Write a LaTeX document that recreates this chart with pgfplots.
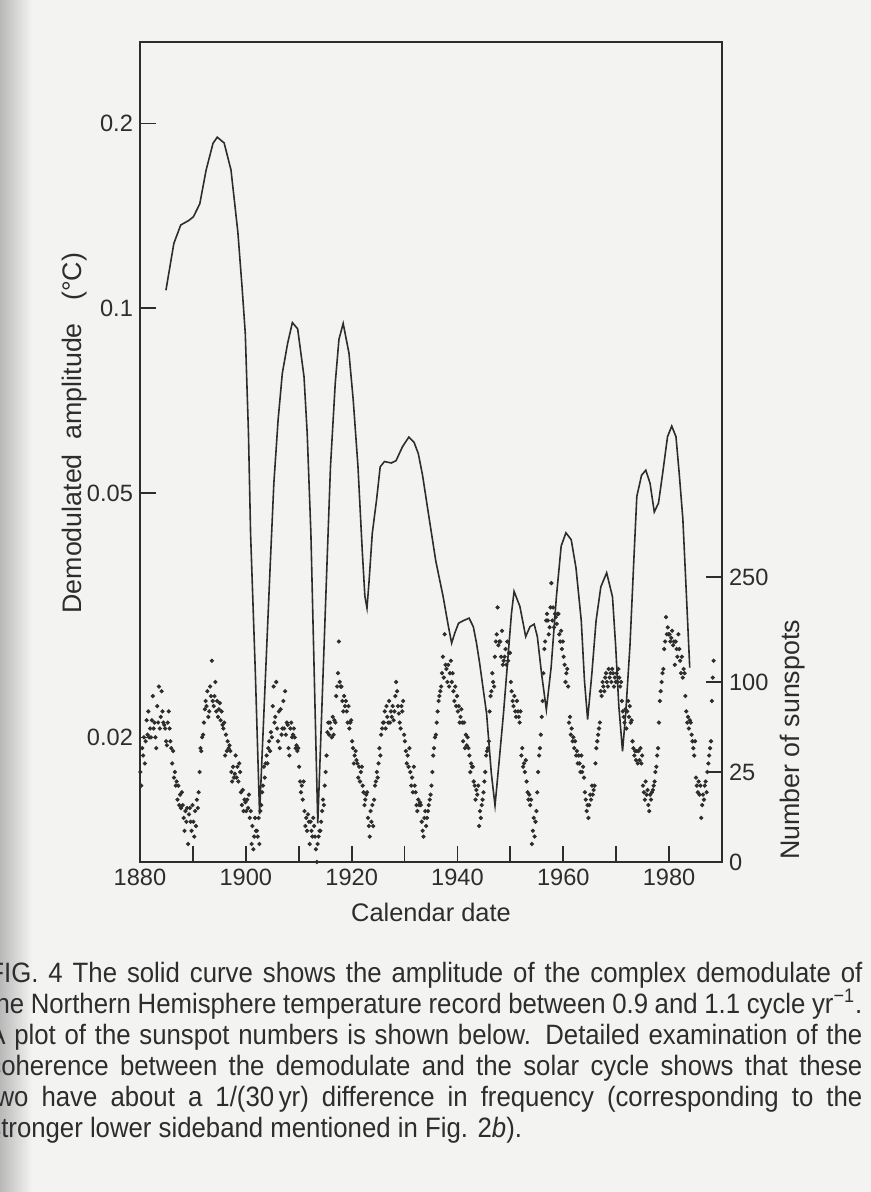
\documentclass[border=0pt]{standalone}
\usepackage{fontspec}
\setmainfont{Liberation Sans}
\newfontfamily\capfont[FakeStretch=0.92]{Liberation Sans}
\usepackage{pgfplots}
\usepackage{pgfplotstable}
\pgfplotsset{compat=1.18}

\definecolor{ink}{RGB}{45,45,45}
\definecolor{paper}{RGB}{243,243,241}

% sunspot numbers, six values per year (two-monthly)
\pgfplotstableread{
yr m1 m2 m3 m4 m5 m6
1880 25 18 40 35 48 30
1881 45 62 50 70 48 55
1882 48 62 85 55 60 48
1883 40 75 60 95 55 65
1884 90 70 60 58 55 45
1885 42 60 70 55 45 40
1886 30 38 22 25 18 20
1887 12 18 10 14 9 15
1888 10 6 3 8 5 9
1889 1 7 9 5 3 10
1890 5 2 8 4 12 9
1891 15 25 40 38 48 50
1892 60 72 80 75 90 65
1893 70 95 85 125 80 75
1894 85 100 70 80 65 72
1895 78 62 70 58 55 60
1896 35 50 38 45 40 42
1897 38 25 20 28 22 24
1898 35 22 28 20 30 25
1899 15 10 16 8 12 11
1900 8 12 9 14 6 8
1901 1 4 0.5 2 6 3
1902 3 2 6 1 8 10
1903 15 18 28 22 30 35
1904 30 40 45 38 52 48
1905 75 95 60 65 100 55
1906 45 70 40 72 50 55
1907 80 55 90 50 60 58
1908 40 35 55 60 48 50
1909 55 48 40 42 38 40
1910 28 20 15 18 12 20
1911 8 4 6 3 7 5
1912 1 5 3 2 6 4
1913 2 0.5 0 1 2 3
1914 3 5 8 12 10 18
1915 25 35 52 60 50 60
1916 55 48 65 50 62 60
1917 85 95 110 150 100 95
1918 95 80 70 85 75 80
1919 70 60 75 55 60 62
1920 45 40 30 35 38 32
1921 30 22 28 20 25 28
1922 18 15 10 12 14 15
1923 6 4 2 8 5 10
1924 4 12 18 20 25 22
1925 30 40 35 50 55 60
1926 60 70 55 75 65 60
1927 80 60 70 65 75 62
1928 70 85 100 90 75 68
1929 60 55 75 70 80 50
1930 45 38 30 35 28 40
1931 25 18 22 15 28 18
1932 15 10 8 12 10 11
1933 10 5 3 2 6 8
1934 4 6 8 10 12 14
1935 18 25 35 40 48 50
1936 60 70 80 85 90 95
1937 110 130 105 160 120 115
1938 100 120 95 110 125 100
1939 110 90 80 95 75 85
1940 70 75 60 65 72 60
1941 45 60 40 50 42 48
1942 40 35 25 30 28 28
1943 20 18 12 16 14 18
1944 4 8 6 10 12 15
1945 20 25 35 38 40 45
1946 70 85 90 110 100 95
1947 130 150 160 200 145 150
1948 150 130 165 120 125 130
1949 140 120 150 125 135 135
1950 100 90 80 75 85 70
1951 65 80 70 65 60 70
1952 35 40 28 30 25 32
1953 20 15 12 14 10 12
1954 1 3 6 2 5 8
1955 15 25 35 40 50 65
1956 80 110 140 150 180 190
1957 180 160 170 200 240 180
1958 200 170 190 185 175 190
1959 190 160 150 165 140 150
1960 130 120 100 110 115 95
1961 60 65 50 55 45 48
1962 40 45 35 38 30 35
1963 30 25 35 25 28 22
1964 15 12 8 10 6 10
1965 14 12 18 14 16 18
1966 30 40 45 50 55 60
1967 90 85 100 95 90 105
1968 110 100 95 115 105 110
1969 100 115 110 95 105 100
1970 110 100 115 105 95 100
1971 80 70 65 60 72 55
1972 70 80 65 75 60 62
1973 45 40 35 38 32 38
1974 30 38 32 40 30 35
1975 18 15 12 20 14 16
1976 10 8 14 12 15 16
1977 18 20 25 28 35 40
1978 60 80 90 100 110 115
1979 140 150 185 160 170 160
1980 160 150 155 165 145 150
1981 120 150 140 130 160 140
1982 125 110 130 105 115 110
1983 85 70 60 65 55 62
1984 60 50 45 40 35 45
1985 22 18 15 20 14 18
1986 6 10 14 12 18 20
1987 15 25 30 35 40 45
}\spots

\newcommand{\ticksize}{\fontsize{11.8}{13}\selectfont}
\newcommand{\labsize}{\fontsize{13.4}{15}\selectfont}

\begin{document}
\begin{tikzpicture}
% page
\fill[paper] (0,0) rectangle (435.5pt,-596pt);
\shade[left color=gray!55, right color=paper] (0,0) rectangle (16pt,-596pt);

% demodulated amplitude, log scale
\begin{axis}[
  at={(70pt,-431pt)}, anchor=south west,
  scale only axis, width=291pt, height=410pt,
  xmin=1880, xmax=1990,
  ymode=log, ymin=0.01254, ymax=0.2715,
  axis line style={line width=0.9pt, draw=ink},
  tick style={line width=0.9pt, draw=ink},
  tick align=inside, major tick length=8pt,
  xtick pos=bottom, ytick pos=left,
  xtick={1880,1890,...,1980},
  xticklabels={1880,,1900,,1920,,1940,,1960,,1980},
  ytick={0.02,0.05,0.1,0.2},
  yticklabels={0.02,0.05,0.1,0.2},
  minor ytick={},
  /pgf/number format/assume math mode=true,
  every tick label/.append style={font=\ticksize, text=ink},
  xlabel={Calendar date},
  ylabel={Demodulated\ \ amplitude\ \ \ (°C)},
  every axis x label/.style={at={(axis description cs:0.5,-0.061)}, anchor=center, font=\fontsize{12.7}{14}\selectfont, text=ink},
  every axis y label/.style={at={(axis description cs:-0.113,0.523)}, anchor=center, rotate=90, font=\labsize, text=ink},
]
\addplot[ink, line width=0.8pt] coordinates {
(1884.9,0.107) (1886.4,0.1276) (1887.7,0.1367) (1889.2,0.139) (1890.1,0.141)
(1891.3,0.148) (1892.5,0.168) (1893.8,0.1857) (1894.6,0.190) (1895.9,0.186)
(1897.2,0.168) (1898.5,0.133) (1899.3,0.108) (1899.9,0.091) (1900.5,0.0626)
(1900.9,0.043) (1901.8,0.0255) (1902.6,0.0150) (1904.6,0.038) (1905.3,0.0519)
(1906.1,0.0658) (1906.9,0.0784) (1907.9,0.0877) (1908.8,0.0948) (1909.8,0.0926)
(1911.0,0.0774) (1911.6,0.0626) (1912.3,0.043) (1913.6,0.0145) (1915.3,0.0375)
(1916.0,0.0552) (1916.9,0.0755) (1917.6,0.089) (1918.4,0.0945) (1919.5,0.0845)
(1920.3,0.0709) (1921.2,0.0552) (1922.0,0.0404) (1922.5,0.034) (1922.9,0.0325)
(1923.3,0.036) (1923.9,0.043) (1924.7,0.0487) (1925.4,0.0552) (1926.2,0.0563)
(1927.5,0.056) (1928.4,0.0565) (1929.6,0.0595) (1930.8,0.0617) (1931.8,0.0605)
(1932.6,0.058) (1933.4,0.0535) (1934.6,0.0458) (1935.9,0.0388) (1937.3,0.0339)
(1938.3,0.0303) (1938.9,0.0285) (1939.5,0.0296) (1940.2,0.0307) (1941.1,0.031)
(1942.2,0.0313) (1943.0,0.0303) (1943.6,0.0285) (1944.2,0.0264) (1945.5,0.0219)
(1946.4,0.0175) (1947.1,0.0155) (1947.8,0.018) (1948.7,0.0219) (1949.5,0.0267)
(1950.2,0.0318) (1950.7,0.0346) (1951.8,0.0327) (1952.9,0.0292) (1953.7,0.0303)
(1954.5,0.0306) (1955.1,0.0292) (1955.9,0.0254) (1956.8,0.0222) (1957.7,0.026)
(1958.7,0.0339) (1959.6,0.041) (1960.5,0.0431) (1961.5,0.042) (1962.4,0.0378)
(1963.4,0.031) (1964.0,0.0248) (1964.6,0.0214) (1965.4,0.0254) (1966.2,0.031)
(1967.1,0.0352) (1968.2,0.0371) (1969.3,0.0339) (1969.9,0.0282) (1970.5,0.0225)
(1971.2,0.019) (1971.8,0.0219) (1972.6,0.0282) (1973.4,0.0400) (1973.9,0.0494)
(1974.8,0.0535) (1975.6,0.0545) (1976.4,0.0519) (1977.2,0.0466) (1978.0,0.0482)
(1978.8,0.054) (1979.7,0.0618) (1980.5,0.0643) (1981.3,0.0618) (1981.9,0.054)
(1982.6,0.0454) (1983.2,0.0352) (1983.9,0.026)
};
\end{axis}

% sunspot numbers, square-root scale on the right
\begin{axis}[
  at={(70pt,-431pt)}, anchor=south west,
  scale only axis, width=291pt, height=410pt,
  xmin=1880, xmax=1990,
  axis x line=none, axis y line*=right,
  ymin=0, ymax=2075,
  y coord trafo/.code={\pgfmathparse{sqrt(#1)}},
  y coord inv trafo/.code={\pgfmathparse{(#1)^2}},
  axis line style={line width=0.9pt, draw=ink},
  tick style={line width=0.9pt, draw=ink},
  tick align=inside, major tick length=8pt,
  ytick={0,25,100,250}, yticklabels={0,25,100,250},
  /pgf/number format/assume math mode=true,
  every tick label/.append style={font=\ticksize, text=ink},
  ylabel={Number of sunspots},
  every axis y label/.style={at={(axis description cs:1.122,0.149)}, anchor=center, rotate=90, font=\labsize, text=ink},
]
\foreach \c/\dx in {m1/0.08,m2/0.25,m3/0.42,m4/0.58,m5/0.75,m6/0.92}{
  \addplot[only marks, mark=*, mark size=0.85pt, ink]
    table[x expr=\thisrow{yr}+\dx, y=\c] {\spots};
}
\addplot[only marks, mark=*, mark size=0.85pt, ink]
  coordinates {(1988.08,80) (1988.25,105) (1988.42,125)};
\end{axis}

% caption (its left edge is cut by the page as in the scan)
\node[anchor=base west, inner sep=0pt, text=ink] at (-6pt,-491pt) {%
  \capfont\fontsize{14}{15.5}\selectfont
  \vtop{\hsize=437pt
    \hbox to\hsize{FIG. 4 The solid curve shows the amplitude of the complex demodulate of}
    \hbox to\hsize{the Northern Hemisphere temperature record between 0.9 and 1.1 cycle yr\textsuperscript{−1}.}
    \hbox to\hsize{A plot of the sunspot numbers is shown below. Detailed examination of the}
    \hbox to\hsize{coherence between the demodulate and the solar cycle shows that these}
    \hbox to\hsize{two have about a 1/(30\,yr) difference in frequency (corresponding to the}
    \hbox{stronger lower sideband mentioned in Fig. 2\textit{b}).}
  }};

\pgfresetboundingbox
\useasboundingbox (0,0) rectangle (435.5pt,-596pt);
\end{tikzpicture}
\end{document}
